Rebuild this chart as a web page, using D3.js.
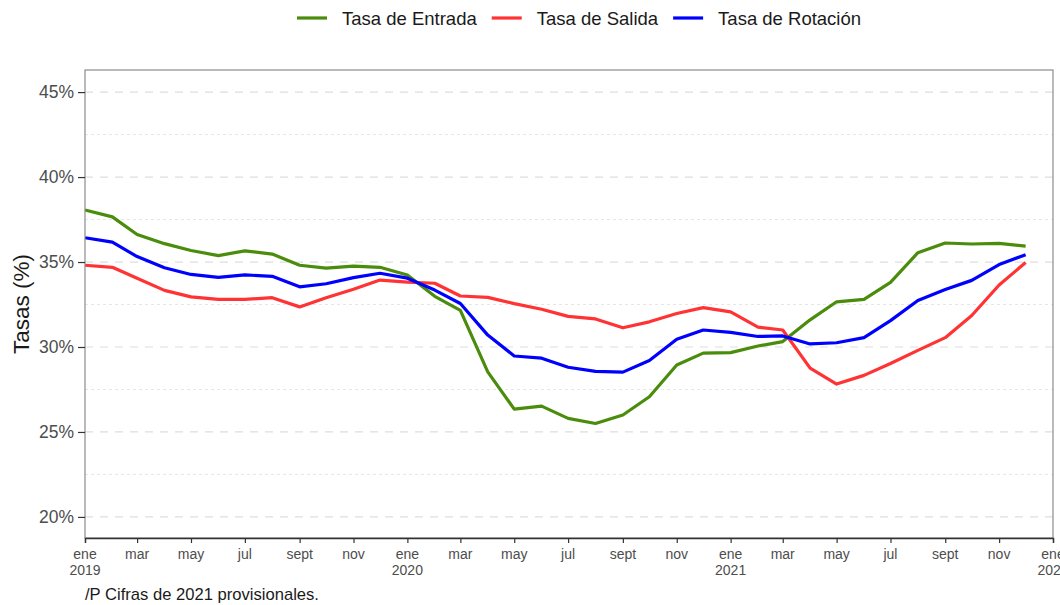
<!DOCTYPE html>
<html>
<head>
<meta charset="utf-8">
<script src="https://cdn.jsdelivr.net/npm/d3@7"></script>
<style>
  body { margin: 0; background: #fff; }
  svg { font-family: "Liberation Sans", Arial, sans-serif; }
</style>
</head>
<body>
<svg id="chart" width="1060" height="605"></svg>
<script>
// monthly data, ene 2019 .. dic 2021
var months = d3.range(36).map(function(i) { return new Date(2019, i, 1); });

var entrada = [38.06, 37.66, 36.62, 36.08, 35.68, 35.38, 35.66, 35.47, 34.81, 34.64, 34.76, 34.69,
               34.24, 32.98, 32.15, 28.54, 26.34, 26.52, 25.80, 25.50, 26.00, 27.07, 28.94, 29.64,
               29.67, 30.06, 30.32, 31.60, 32.66, 32.80, 33.80, 35.55, 36.12, 36.06, 36.10, 35.94];
var salida  = [34.81, 34.69, 34.05, 33.33, 32.95, 32.80, 32.80, 32.90, 32.36, 32.90, 33.40, 33.94,
               33.82, 33.75, 33.00, 32.92, 32.55, 32.22, 31.80, 31.65, 31.13, 31.48, 31.97, 32.32,
               32.07, 31.17, 31.00, 28.76, 27.82, 28.33, 29.03, 29.80, 30.55, 31.85, 33.65, 34.97];
var rotacion = [36.43, 36.17, 35.32, 34.66, 34.27, 34.10, 34.24, 34.16, 33.54, 33.72, 34.08, 34.34,
                34.05, 33.35, 32.56, 30.70, 29.47, 29.34, 28.81, 28.57, 28.52, 29.21, 30.45, 31.00,
                30.86, 30.62, 30.65, 30.18, 30.25, 30.55, 31.55, 32.74, 33.38, 33.92, 34.85, 35.43];

var seriesNames = ["Tasa de Entrada", "Tasa de Salida", "Tasa de Rotación"];
var seriesColors = ["#4a8c0c", "#ff3333", "#0000ff"];
var seriesData = [entrada, salida, rotacion];

var yTicks = [20, 25, 30, 35, 40, 45];
var yMinor = [22.5, 27.5, 32.5, 37.5, 42.5];
var monthNames = ["ene", "feb", "mar", "abr", "may", "jun", "jul", "ago", "sept", "oct", "nov", "dic"];

var svg = d3.select("#chart");
var pLeft = 85, pRight = 1053, pTop = 70, pBottom = 538;

var x = d3.scaleTime()
    .domain([new Date(2019, 0, 1), new Date(2022, 0, 1)])
    .range([pLeft, pRight]);
var y = d3.scaleLinear()
    .domain([18.76, 46.3])
    .range([pBottom, pTop]);

// gridlines
svg.append("g").selectAll("line")
    .data(yMinor)
    .enter().append("line")
    .attr("x1", pLeft).attr("x2", pRight)
    .attr("y1", function(d) { return y(d); })
    .attr("y2", function(d) { return y(d); })
    .style("stroke", "#e6e6e6")
    .style("stroke-width", 1)
    .style("stroke-dasharray", "3,3");

svg.append("g").selectAll("line")
    .data(yTicks)
    .enter().append("line")
    .attr("x1", pLeft).attr("x2", pRight)
    .attr("y1", function(d) { return y(d); })
    .attr("y2", function(d) { return y(d); })
    .style("stroke", "#dedede")
    .style("stroke-width", 1.2)
    .style("stroke-dasharray", "8,7");

// lines
var line = d3.line()
    .x(function(d, i) { return x(months[i]); })
    .y(function(d) { return y(d); });

svg.append("g").selectAll("path")
    .data(seriesData)
    .enter().append("path")
    .attr("d", line)
    .style("fill", "none")
    .style("stroke", function(d, i) { return seriesColors[i]; })
    .style("stroke-width", 3.2)
    .style("stroke-linejoin", "round");

// panel border
svg.append("rect")
    .attr("x", pLeft).attr("y", pTop)
    .attr("width", pRight - pLeft).attr("height", pBottom - pTop)
    .style("fill", "none")
    .style("stroke", "#8c8c8c")
    .style("stroke-width", 1.2);

// y axis
var yAxis = svg.append("g")
    .attr("transform", "translate(" + pLeft + ",0)")
    .call(d3.axisLeft(y).tickValues(yTicks).tickSize(7).tickPadding(4)
        .tickFormat(function(d) { return d + "%"; }));
yAxis.select(".domain").remove();
yAxis.selectAll(".tick line").style("stroke", "#333").style("stroke-width", 1.2);
yAxis.selectAll(".tick text")
    .style("font-size", "17.5px")
    .style("fill", "#4d4d4d")
    .style("font-family", "Liberation Sans, Arial, sans-serif");

// x axis
var xTicks = d3.timeMonth.every(2).range(new Date(2019, 0, 1), new Date(2022, 0, 2));
var xAxis = svg.append("g")
    .attr("transform", "translate(0," + pBottom + ")")
    .call(d3.axisBottom(x).tickValues(xTicks).tickSize(5).tickFormat(""));
xAxis.select(".domain").style("stroke", "#333").style("stroke-width", 1.4);
xAxis.selectAll(".tick line").style("stroke", "#333").style("stroke-width", 1.2);

var xLab = svg.append("g").selectAll("text")
    .data(xTicks)
    .enter().append("text")
    .attr("x", function(d) { return x(d); })
    .attr("y", pBottom + 21)
    .attr("text-anchor", "middle")
    .style("font-size", "14px")
    .style("fill", "#4d4d4d");
xLab.append("tspan")
    .attr("x", function(d) { return x(d); })
    .text(function(d) { return monthNames[d.getMonth()]; });
xLab.append("tspan")
    .attr("x", function(d) { return x(d); })
    .attr("dy", 16)
    .text(function(d) { return d.getMonth() === 0 ? d.getFullYear() : ""; });

// y title
svg.append("text")
    .attr("transform", "translate(29," + ((pTop + pBottom) / 2) + ") rotate(-90)")
    .attr("text-anchor", "middle")
    .style("font-size", "22.5px")
    .style("fill", "#1a1a1a")
    .text("Tasas (%)");

// caption
svg.append("text")
    .attr("x", 85)
    .attr("y", 600)
    .style("font-size", "16.6px")
    .style("fill", "#1a1a1a")
    .text("/P Cifras de 2021 provisionales.");

// legend, laid out left to right from the measured text widths
var legend = svg.append("g").attr("transform", "translate(0,18)");
var lx = 297;
seriesNames.forEach(function(name, i) {
    legend.append("line")
        .attr("x1", lx).attr("x2", lx + 30)
        .style("stroke", seriesColors[i])
        .style("stroke-width", 3.2);
    var t = legend.append("text")
        .attr("x", lx + 45)
        .attr("y", 6.5)
        .style("font-size", "18.5px")
        .style("fill", "#1a1a1a")
        .text(name);
    lx += 45 + t.node().getComputedTextLength() + 15;
});
</script>
</body>
</html>
